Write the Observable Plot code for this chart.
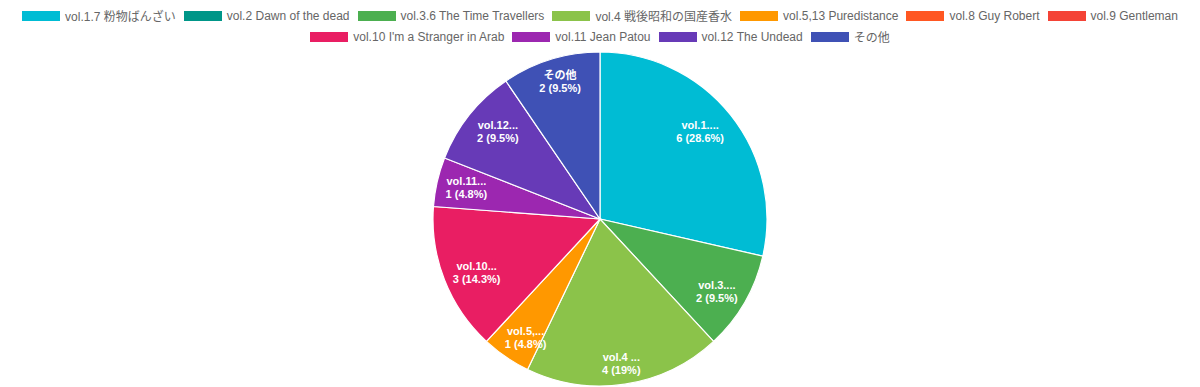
<!DOCTYPE html>
<html>
<head>
<meta charset="utf-8">
<script src="https://cdn.jsdelivr.net/npm/d3@7"></script>
<script src="https://cdn.jsdelivr.net/npm/@observablehq/plot@0.6"></script>
<style>
  html, body { margin: 0; padding: 0; background: #fff; }
  body { width: 1200px; height: 387px; overflow: hidden; font-family: "Liberation Sans", Arial, "Noto Sans CJK JP", sans-serif; }
  #legend { height: 48px; box-sizing: border-box; padding-top: 5px; }
  .row { display: flex; flex-wrap: nowrap; justify-content: center; }
  .item { display: flex; align-items: center; height: 21px; margin: 0 4px; font-size: 12px; color: #666; white-space: nowrap; }
  .sw { width: 38px; height: 10px; margin-right: 5px; box-sizing: border-box; }
  #chart svg { display: block; }
</style>
</head>
<body>
<div id="legend"></div>
<div id="chart"></div>
<script>
const names = [
  "vol.1.7 粉物ばんざい",
  "vol.2 Dawn of the dead",
  "vol.3.6 The Time Travellers",
  "vol.4 戦後昭和の国産香水",
  "vol.5,13 Puredistance",
  "vol.8 Guy Robert",
  "vol.9 Gentleman",
  "vol.10 I'm a Stranger in Arab",
  "vol.11 Jean Patou",
  "vol.12 The Undead",
  "その他"
];
const values = [6, 0, 2, 4, 1, 0, 0, 3, 1, 2, 2];
const palette = ["#00BCD4", "#009688", "#4CAF50", "#8BC34A", "#FF9800", "#FF5722", "#F44336", "#E91E63", "#9C27B0", "#673AB7", "#3F51B5"];
const legendRowBreak = 7; // items on first legend row

// Legend
const legend = document.getElementById("legend");
let row = null;
names.forEach((n, i) => {
  if (i === 0 || i === legendRowBreak) {
    row = document.createElement("div");
    row.className = "row";
    legend.appendChild(row);
  }
  const it = document.createElement("div");
  it.className = "item";
  const sw = document.createElement("span");
  sw.className = "sw";
  sw.style.background = palette[i];
  const tx = document.createElement("span");
  tx.textContent = n;
  it.appendChild(sw); it.appendChild(tx);
  row.appendChild(it);
});

// layout
const W = 1200, H = 339, R = 167, CY = 171;
const labelFont = 11, labelLH = 1.2, labelPad = 4, labelOffset = 4;
const fontStack = "'Liberation Sans', Arial, 'Noto Sans CJK JP', sans-serif";

const data = names.map((name, i) => ({name, value: values[i], color: palette[i]}));
const total = d3.sum(values);
const arcs = d3.pie().sort(null).value(d => d.value)(data);

const ctx = document.createElement("canvas").getContext("2d");
ctx.font = `bold ${labelFont}px ${fontStack}`;

const short = n => n.length > 6 ? n.slice(0, 6) + "..." : n;
const labels = arcs.filter(a => a.data.value > 0).map(a => {
  const mid = (a.startAngle + a.endAngle) / 2;
  const pct = +(a.data.value / total * 100).toFixed(1);
  const l1 = short(a.data.name), l2 = a.data.value + " (" + pct + "%)";
  const w = Math.max(ctx.measureText(l1).width, ctx.measureText(l2).width) + 2 * labelPad;
  const h = 2 * labelFont * labelLH + 2 * labelPad;
  const ux = Math.sin(mid), uy = -Math.cos(mid);
  const vx = -ux, vy = -uy;
  const vs = 1 / Math.max(Math.abs(vx), Math.abs(vy));
  const px = R * ux + (w / 2) * vx * vs + labelOffset * vx;
  const py = R * uy + (h / 2) * vy * vs + labelOffset * vy;
  return {x: px / R, y: -py / R, label: l1 + "\n" + l2};
});

const slices = (index, scales) => {
  const cx = scales.x(0), cy = scales.y(0);
  const r = scales.x(1) - scales.x(0);
  const arc = d3.arc().innerRadius(0).outerRadius(r);
  const g = d3.create("svg:g").attr("transform", `translate(${cx},${cy})`);
  g.selectAll("path")
    .data(arcs.filter(a => a.data.value > 0))
    .join("path")
    .attr("d", arc)
    .attr("fill", a => a.data.color)
    .attr("stroke", "#fff")
    .attr("stroke-width", 1.2);
  return g.node();
};

const chart = Plot.plot({
  width: W,
  height: H,
  marginLeft: W / 2 - R,
  marginRight: W / 2 - R,
  marginTop: CY - R,
  marginBottom: H - CY - R,
  x: {domain: [-1, 1], axis: null},
  y: {domain: [-1, 1], axis: null},
  style: {fontFamily: fontStack, background: "#fff"},
  marks: [
    slices,
    Plot.text(labels, {x: "x", y: "y", text: "label", fill: "white", fontWeight: "bold", fontSize: labelFont, lineHeight: labelLH})
  ]
});
document.getElementById("chart").appendChild(chart);
</script>
</body>
</html>
